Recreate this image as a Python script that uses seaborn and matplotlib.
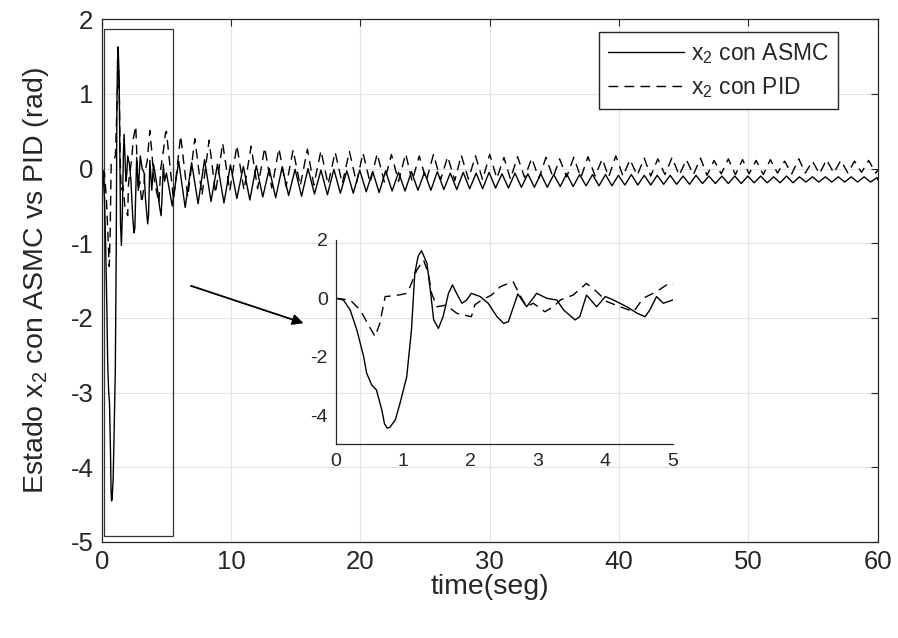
import matplotlib
matplotlib.use("Agg")
import matplotlib.pyplot as plt
import pandas as pd
import seaborn as sns
from matplotlib.patches import Rectangle

# --- x2 under the ASMC controller: transient (0-5 s) ---
asmc_t_start = [0, 0.11, 0.21, 0.31, 0.41, 0.455, 0.53, 0.60, 0.68, 0.72,
                0.76, 0.80, 0.88, 0.95, 1.05, 1.12, 1.17, 1.22, 1.27, 1.35,
                1.40, 1.45, 1.52, 1.59, 1.67, 1.73, 1.79, 1.87, 1.94, 2.01,
                2.14, 2.26, 2.39, 2.49, 2.56, 2.70, 2.83, 2.98, 3.13, 3.28,
                3.38, 3.55, 3.62, 3.72, 3.87, 4.00, 4.12, 4.32, 4.47, 4.59,
                4.66, 4.76, 4.86, 5.00]
asmc_v_start = [0, -0.06, -0.40, -1.09, -2.00, -2.57, -2.97, -3.14, -3.83, -4.30,
                -4.45, -4.42, -4.17, -3.60, -2.69, -1.09, 0.86, 1.45, 1.63, 1.20,
                0.29, -0.74, -1.03, -0.63, 0.17, 0.46, 0.17, -0.17, -0.06, 0.17,
                0.06, -0.17, -0.63, -0.86, -0.80, 0.15, -0.29, 0.17, 0.00, -0.06,
                -0.40, -0.74, -0.63, 0.11, -0.29, 0.06, -0.06, -0.29, -0.51, -0.63,
                -0.40, 0.06, -0.17, -0.06]

# --- x2 under the ASMC controller: residual oscillation (5-60 s) ---
asmc_t_tail = [5.45, 5.95, 6.45, 6.95, 7.45, 7.95, 8.45, 8.95, 9.45, 9.95,
               10.45, 10.95, 11.45, 11.95, 12.45, 12.95, 13.45, 13.95, 14.45, 14.95,
               15.45, 15.95, 16.45, 16.95, 17.45, 17.95, 18.45, 18.95, 19.45, 19.95,
               20.45, 20.95, 21.45, 21.95, 22.45, 22.95, 23.45, 23.95, 24.45, 24.95,
               25.45, 25.95, 26.45, 26.95, 27.45, 27.95, 28.45, 28.95, 29.45, 29.95,
               30.45, 30.95, 31.45, 31.95, 32.45, 32.95, 33.45, 33.95, 34.45, 34.95,
               35.45, 35.95, 36.45, 36.95, 37.45, 37.95, 38.45, 38.95, 39.45, 39.95,
               40.45, 40.95, 41.45, 41.95, 42.45, 42.95, 43.45, 43.95, 44.45, 44.95,
               45.45, 45.95, 46.45, 46.95, 47.45, 47.95, 48.45, 48.95, 49.45, 49.95,
               50.45, 50.95, 51.45, 51.95, 52.45, 52.95, 53.45, 53.95, 54.45, 54.95,
               55.45, 55.95, 56.45, 56.95, 57.45, 57.95, 58.45, 58.95, 59.45, 59.95,
               60.0]
asmc_v_tail = [-0.50, 0.10, -0.52, 0.08, -0.47, 0.12, -0.44, 0.06, -0.46, 0.05,
               -0.40, 0.03, -0.42, 0.04, -0.38, 0.00, -0.39, 0.02, -0.36, -0.01,
               -0.37, 0.00, -0.34, -0.02, -0.35, -0.01, -0.33, -0.03, -0.33, -0.02,
               -0.31, -0.04, -0.32, -0.03, -0.30, -0.05, -0.30, -0.04, -0.29, -0.05,
               -0.29, -0.04, -0.28, -0.06, -0.28, -0.05, -0.27, -0.06, -0.27, -0.05,
               -0.26, -0.07, -0.26, -0.06, -0.25, -0.07, -0.25, -0.07, -0.25, -0.08,
               -0.24, -0.07, -0.24, -0.08, -0.23, -0.08, -0.23, -0.08, -0.23, -0.09,
               -0.22, -0.08, -0.22, -0.09, -0.22, -0.09, -0.21, -0.09, -0.21, -0.10,
               -0.21, -0.09, -0.20, -0.10, -0.20, -0.10, -0.20, -0.10, -0.20, -0.10,
               -0.19, -0.10, -0.19, -0.11, -0.19, -0.10, -0.19, -0.11, -0.18, -0.11,
               -0.18, -0.11, -0.18, -0.11, -0.18, -0.11, -0.18, -0.11, -0.18, -0.12,
               -0.15]

# --- x2 under the PID controller: transient (0-5 s) ---
pid_t_start = [0, 0.21, 0.36, 0.48, 0.58, 0.65, 0.73, 0.83, 0.95, 1.05,
               1.10, 1.20, 1.30, 1.37, 1.42, 1.50, 1.64, 1.79, 1.89, 2.01,
               2.06, 2.16, 2.31, 2.44, 2.63, 2.73, 2.83, 2.93, 3.10, 3.23,
               3.33, 3.52, 3.72, 3.87, 4.02, 4.22, 4.42, 4.56, 4.76, 4.91,
               5.00]
pid_v_start = [0, -0.06, -0.40, -0.91, -1.31, -0.86, 0.06, 0.08, 0.12, 0.17,
               0.40, 0.97, 1.31, 0.86, 0.17, -0.29, -0.23, -0.51, -0.57, -0.63,
               -0.23, -0.06, 0.11, 0.40, 0.57, 0.11, -0.29, -0.17, -0.46, -0.29,
               -0.06, 0.11, 0.51, 0.23, -0.11, -0.29, -0.46, 0.00, 0.23, 0.46,
               0.50]

# --- x2 under the PID controller: residual oscillation (5-60 s) ---
pid_t_tail = [5.55, 6.1, 6.65, 7.2, 7.75, 8.3, 8.8, 9.35, 9.9, 10.45,
              11.0, 11.55, 12.05, 12.6, 13.15, 13.7, 14.25, 14.8, 15.35, 15.9,
              16.4, 16.95, 17.5, 18.05, 18.6, 19.15, 19.7, 20.2, 20.75, 21.3,
              21.85, 22.4, 22.95, 23.5, 24.0, 24.55, 25.1, 25.65, 26.2, 26.75,
              27.3, 27.8, 28.35, 28.9, 29.45, 30.0, 30.55, 31.1, 31.6, 32.15,
              32.7, 33.25, 33.8, 34.35, 34.9, 35.4, 35.95, 36.5, 37.05, 37.6,
              38.15, 38.7, 39.2, 39.75, 40.3, 40.85, 41.4, 41.95, 42.45, 43.0,
              43.55, 44.1, 44.65, 45.2, 45.75, 46.3, 46.8, 47.35, 47.9, 48.45,
              49.0, 49.55, 50.05, 50.6, 51.15, 51.7, 52.25, 52.8, 53.35, 53.9,
              54.4, 54.95, 55.5, 56.05, 56.6, 57.15, 57.7, 58.2, 58.75, 59.3,
              59.85, 60.0]
pid_v_tail = [-0.42, 0.44, -0.38, 0.40, -0.36, 0.38, -0.33, 0.34, -0.30, 0.31,
              -0.29, 0.30, -0.27, 0.28, -0.26, 0.27, -0.24, 0.25, -0.23, 0.26,
              -0.22, 0.24, -0.21, 0.22, -0.20, 0.23, -0.19, 0.21, -0.19, 0.20,
              -0.18, 0.19, -0.17, 0.20, -0.17, 0.17, -0.16, 0.19, -0.15, 0.16,
              -0.16, 0.18, -0.14, 0.17, -0.15, 0.19, -0.13, 0.15, -0.14, 0.16,
              -0.12, 0.14, -0.13, 0.15, -0.12, 0.13, -0.11, 0.15, -0.12, 0.16,
              -0.10, 0.13, -0.11, 0.17, -0.10, 0.12, -0.09, 0.14, -0.10, 0.13,
              -0.08, 0.15, -0.09, 0.12, -0.08, 0.14, -0.09, 0.11, -0.07, 0.13,
              -0.08, 0.12, -0.07, 0.11, -0.08, 0.12, -0.06, 0.10, -0.07, 0.13,
              -0.06, 0.10, -0.07, 0.12, -0.06, 0.11, -0.06, 0.10, -0.05, 0.11,
              -0.06, -0.02]

series_labels = [r"$x_2$ con ASMC", r"$x_2$ con PID"]
x_ticks = [0, 10, 20, 30, 40, 50, 60]
y_ticks = [-5, -4, -3, -2, -1, 0, 1, 2]
inset_x_ticks = [0, 1, 2, 3, 4, 5]
inset_y_ticks = [-4, -2, 0, 2]

asmc = pd.DataFrame({"t": asmc_t_start + asmc_t_tail, "x2": asmc_v_start + asmc_v_tail})
pid = pd.DataFrame({"t": pid_t_start + pid_t_tail, "x2": pid_v_start + pid_v_tail})

sns.set_style("white")
plt.rcParams["font.family"] = ["Liberation Sans", "DejaVu Sans"]
plt.rcParams["mathtext.default"] = "regular"
plt.rcParams["axes.unicode_minus"] = False

INK = "#262626"
DASH = (7, 4.5)


def draw_series(ax, lw):
    sns.lineplot(data=asmc, x="t", y="x2", ax=ax, color="black", lw=lw,
                 sort=False, estimator=None, label=series_labels[0], legend=False)
    sns.lineplot(data=pid, x="t", y="x2", ax=ax, color="black", lw=lw,
                 sort=False, estimator=None, label=series_labels[1], legend=False)
    ax.lines[-1].set_dashes(DASH)


fig = plt.figure(figsize=(8.98, 6.38), dpi=100)
ax = fig.add_axes([0.1133, 0.1505, 0.8641, 0.8193])
draw_series(ax, 1.0)

ax.set_xlim(0, 60)
ax.set_ylim(-5, 2)
ax.set_xticks(x_ticks)
ax.set_yticks(y_ticks)
ax.grid(True, color="#e3e3e3", lw=0.8)
ax.set_axisbelow(True)
for s in ax.spines.values():
    s.set_visible(True)
    s.set_color(INK)
    s.set_linewidth(0.9)
ax.tick_params(direction="in", top=True, right=True, length=5, width=0.8,
               labelsize=18.5, colors=INK, pad=6)
ax.set_xlabel("time(seg)", fontsize=20.5, color=INK, labelpad=0)
ax.set_ylabel(r"Estado $x_2$ con ASMC vs PID (rad)", fontsize=20.5, color=INK, labelpad=14)

ax.legend(loc="upper right", bbox_to_anchor=(838 / 898, 1 - 32 / 638),
          bbox_transform=fig.transFigure, borderaxespad=0, fancybox=False,
          framealpha=1, edgecolor=INK, fontsize=16.5, handlelength=3.3,
          handletextpad=0.3, borderpad=0.4, labelspacing=0.4)

# zoom window and pointer to the inset
ax.add_patch(Rectangle((0.2, -4.92), 5.3, 6.79, fill=False, ec="#333333", lw=0.9))
ax.annotate("", xy=(15.6, -2.07), xytext=(6.9, -1.57),
            arrowprops=dict(arrowstyle="-|>", color="black", lw=1.3,
                            mutation_scale=16, shrinkA=0, shrinkB=0))

# inset with the first five seconds
axin = fig.add_axes([0.3742, 0.3038, 0.3749, 0.3201])
axin.patch.set_alpha(0)
draw_series(axin, 1.0)
axin.set_xlim(0, 5)
axin.set_ylim(-5, 2)
axin.set_xticks(inset_x_ticks)
axin.set_yticks(inset_y_ticks)
axin.set_xlabel("")
axin.set_ylabel("")
axin.grid(False)
for side in ("top", "right"):
    axin.spines[side].set_visible(False)
for side in ("left", "bottom"):
    axin.spines[side].set_color(INK)
    axin.spines[side].set_linewidth(0.9)
axin.tick_params(direction="in", length=4, width=0.8, labelsize=14, colors=INK, pad=6)

fig.savefig("out.png", dpi=100)
